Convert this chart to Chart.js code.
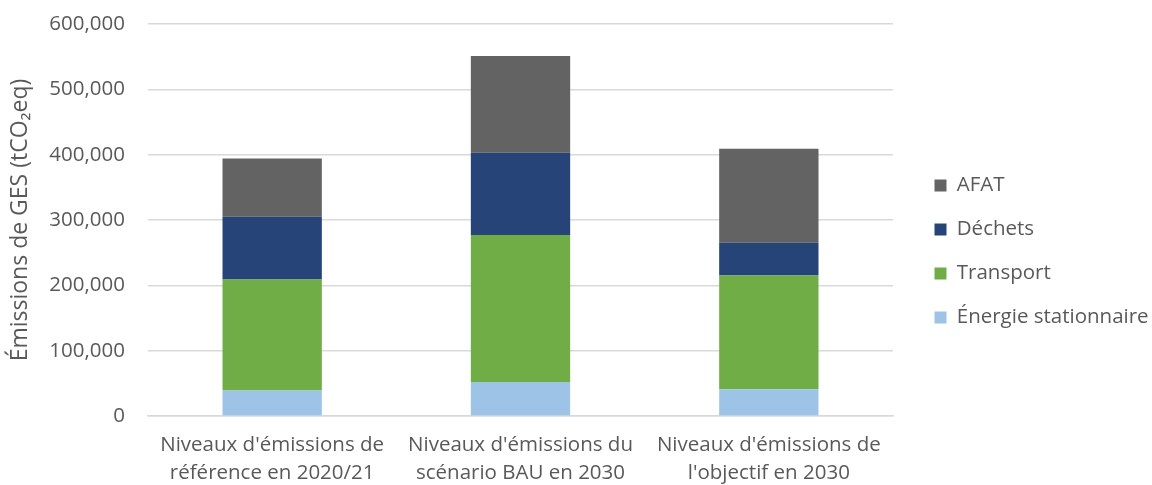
<!DOCTYPE html>
<html>
<head>
<meta charset="utf-8">
<script src="https://cdn.jsdelivr.net/npm/chart.js@4/dist/chart.umd.min.js"></script>
<style>
html,body{margin:0;padding:0;background:#fff;}
#wrap{width:1152px;height:485px;position:relative;}
</style>
</head>
<body>
<div id="wrap"><canvas id="c" width="1152" height="485"></canvas></div>
<script>
const categories = [
  ["Niveaux d'émissions de", "référence en 2020/21"],
  ["Niveaux d'émissions du", "scénario BAU en 2030"],
  ["Niveaux d'émissions de", "l'objectif en 2030"]
];
const energieStationnaire = [39000, 52000, 41000];
const transport = [170000, 225000, 174000];
const dechets = [96000, 126000, 50000];
const afat = [89000, 148000, 144000];
const yTicks = [0, 100000, 200000, 300000, 400000, 500000, 600000];

const FONT = "'Open Sans', 'DejaVu Sans', sans-serif";
const TXT = '#595959';

const legendPlace = {
  id: 'legendPlace',
  beforeLayout(chart) {
    const lg = chart.legend;
    if (lg && !lg._wrapped) {
      const f = lg.fit.bind(lg);
      lg.fit = function () { f(); this.width = 259; };
      lg._wrapped = true;
    }
  },
  afterLayout(chart) {
    const lg = chart.legend;
    if (lg) {
      lg.left = 911; lg.right = 1152;
      lg.top -= 3; lg.bottom -= 3;
    }
  }
};

new Chart(document.getElementById('c'), {
  type: 'bar',
  data: {
    labels: categories,
    datasets: [
      {label: 'Énergie stationnaire', data: energieStationnaire, backgroundColor: '#9DC3E6'},
      {label: 'Transport', data: transport, backgroundColor: '#70AD47'},
      {label: 'Déchets', data: dechets, backgroundColor: '#264478'},
      {label: 'AFAT', data: afat, backgroundColor: '#636363'}
    ]
  },
  plugins: [legendPlace],
  options: {
    responsive: false,
    animation: false,
    layout: {padding: {top: 24, right: 0, left: 0, bottom: 0}},
    datasets: {bar: {barPercentage: 0.4, categoryPercentage: 1.0}},
    scales: {
      x: {
        stacked: true,
        grid: {display: false, drawTicks: false},
        border: {display: true, color: '#d9d9d9', width: 1.5},
        ticks: {color: TXT, font: {family: FONT, size: 20.5, lineHeight: 1.36}, padding: 15, maxRotation: 0, autoSkip: false},
        afterFit: (s) => { s.height = 69; s.paddingLeft = 0; s.paddingRight = 0; }
      },
      y: {
        stacked: true,
        min: 0, max: 600000,
        afterBuildTicks: (s) => { s.ticks = yTicks.map(v => ({value: v})); },
        grid: {color: '#d9d9d9', lineWidth: 1.5, drawTicks: false},
        border: {display: false},
        ticks: {
          color: TXT, font: {family: FONT, size: 20.5}, padding: 23,
          callback: (v) => v.toLocaleString('en-US')
        },
        title: {display: true, text: 'Émissions de GES (tCO₂eq)', color: TXT, font: {family: FONT, size: 23}, padding: {top: 7, bottom: 0}},
        afterFit: (s) => { s.width = 148; s.paddingTop = 0; s.paddingBottom = 0; }
      }
    },
    plugins: {
      tooltip: {enabled: false},
      legend: {
        position: 'right',
        reverse: true,
        labels: {color: TXT, font: {family: FONT, size: 20.5}, boxWidth: 12, boxHeight: 12, padding: 23.5}
      }
    }
  }
});
</script>
</body>
</html>
